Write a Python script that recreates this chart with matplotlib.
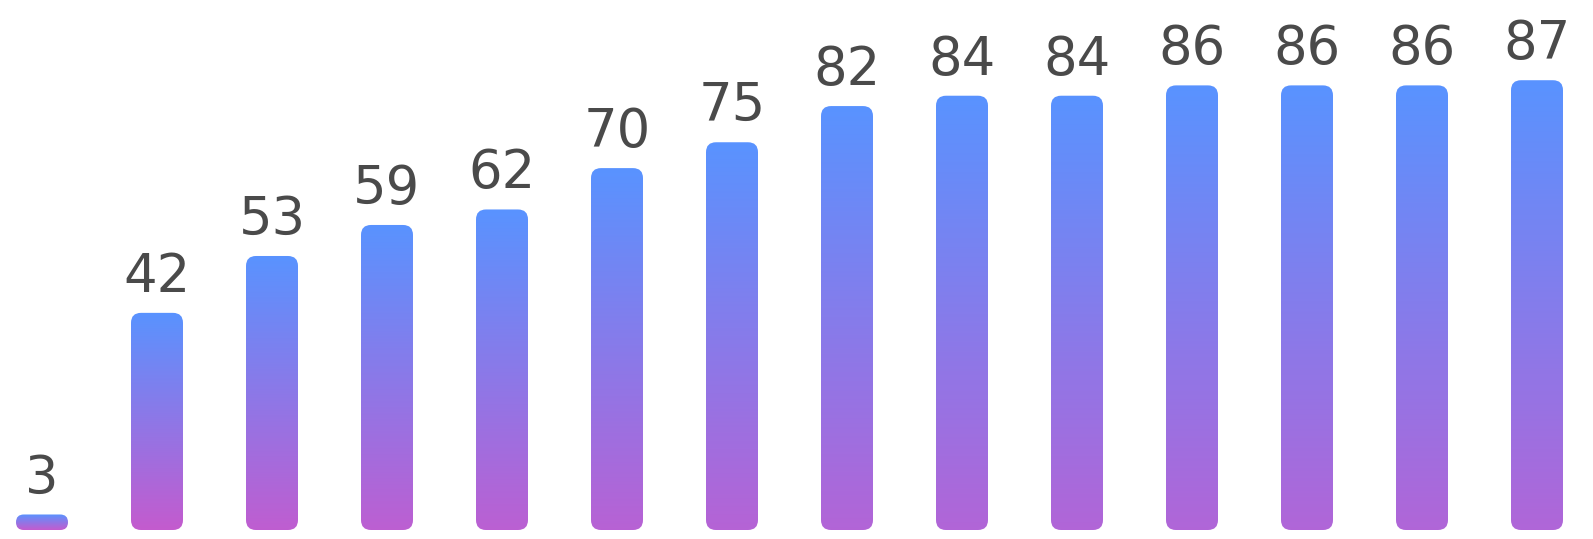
import numpy as np
import matplotlib
matplotlib.use("Agg")
import matplotlib.pyplot as plt
from matplotlib.patches import FancyBboxPatch
from matplotlib.colors import to_rgb

values = [3, 42, 53, 59, 62, 70, 75, 82, 84, 84, 86, 86, 86, 87]
labels = [str(v) for v in values]

W, H = 1593, 539
x0_px, step_px = 42, 115.0      # first bar centre, spacing
base_px, unit_px = 9, 5.17      # bar base from bottom, px per unit
bar_w = 52 / step_px
rad_px = 10

top_col = np.array(to_rgb("#5993FF"))
bot_short = np.array(to_rgb("#C45BCE"))
bot_tall = np.array(to_rgb("#B066D8"))

fig = plt.figure(figsize=(W / 100, H / 100), dpi=100)
ax = fig.add_axes([0, 0, 1, 1])
ax.axis("off")

xlim = (-x0_px / step_px, (W - x0_px) / step_px)
ylim = (-base_px / unit_px, (H - base_px) / unit_px)

for i, v in enumerate(values):
    h_px = v * unit_px
    r_px = min(rad_px, h_px / 2)
    rx = r_px / step_px
    aspect = (r_px / unit_px) / rx
    patch = FancyBboxPatch((i - bar_w / 2, 0), bar_w, v,
                           boxstyle=f"round,pad=0,rounding_size={rx}",
                           mutation_aspect=aspect, facecolor="none",
                           edgecolor="none")
    ax.add_patch(patch)
    t = np.clip((h_px - 215) / (450 - 215), 0, 1)
    bot = bot_short * (1 - t) + bot_tall * t
    f = np.linspace(0, 1, 256)[:, None]
    grad = top_col[None, :] * (1 - f) + bot[None, :] * f
    # row 0 (blue) at the top of the bar
    img = ax.imshow(grad[:, None, :], extent=(i - bar_w / 2, i + bar_w / 2, 0, v),
                    aspect="auto", interpolation="bilinear", origin="upper")
    img.set_clip_path(patch)
    ax.text(i, v + 21 / unit_px, labels[i], ha="center", va="baseline",
            fontsize=38, color="#4A4A4A", family=["DejaVu Sans"])

ax.set_xlim(*xlim)
ax.set_ylim(*ylim)
fig.savefig("out.png", dpi=100)
